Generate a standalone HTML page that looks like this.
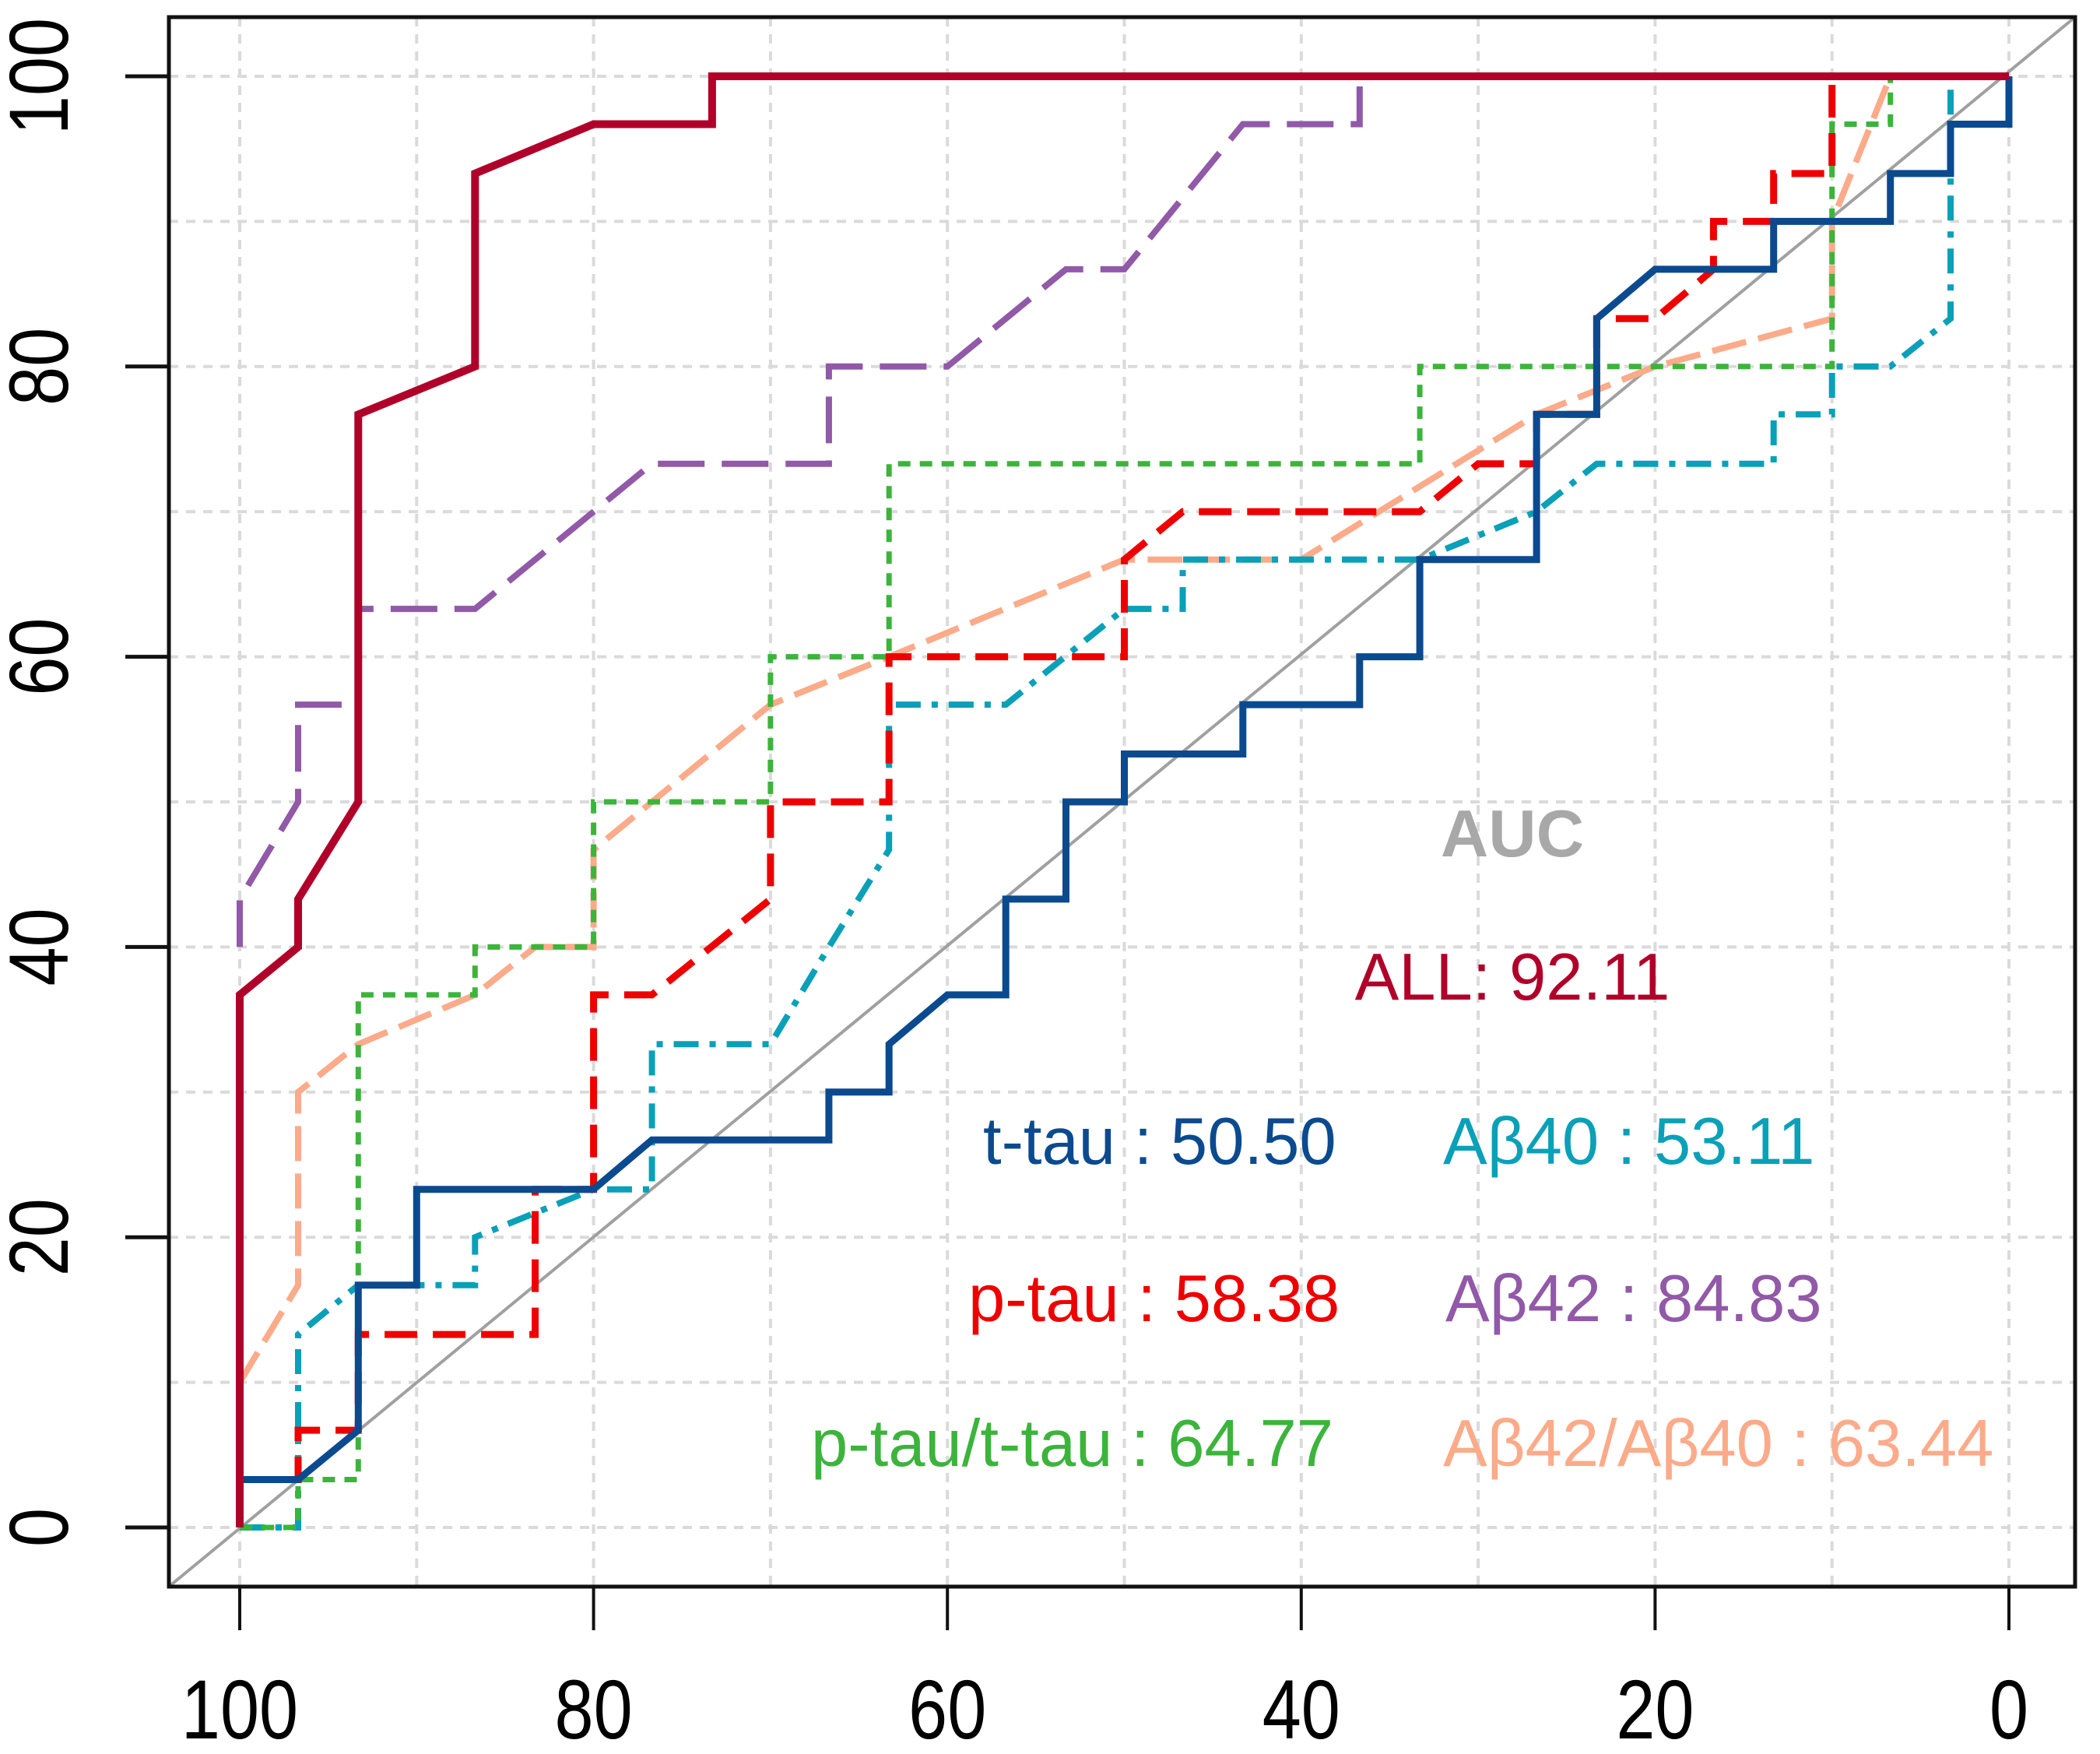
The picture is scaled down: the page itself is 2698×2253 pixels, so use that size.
<!DOCTYPE html>
<html><head><meta charset="utf-8"><style>
html,body{margin:0;padding:0;background:#fff}
svg{display:block}
text{font-family:"Liberation Sans",sans-serif}
</style></head><body>
<svg id="chart" width="2698" height="2253" viewBox="0 0 2698 2253" xmlns="http://www.w3.org/2000/svg">
<g id="grid"></g>
<line x1="217" y1="2038" x2="2666" y2="22" stroke="#a0a0a0" stroke-width="4"/>
<g id="series"></g>
<rect x="217" y="22" width="2449" height="2016" fill="none" stroke="#111" stroke-width="5"/>
<g id="axes"></g>
<g font-size="85">
<text x="1943" y="1100" text-anchor="middle" fill="#a8a8a8" font-weight="bold">AUC</text>
<text x="1943" y="1284" text-anchor="middle" fill="#b0002a">ALL: 92.11</text>
<text x="1263" y="1495" fill="#0b4a8f">t-tau : 50.50</text>
<text x="1854" y="1495" fill="#0aa0b8">Aβ40 : 53.11</text>
<text x="1244" y="1697" fill="#ee0000">p-tau : 58.38</text>
<text x="1857" y="1697" fill="#9159a8">Aβ42 : 84.83</text>
<text x="1042" y="1883" fill="#3cb43c">p-tau/t-tau : 64.77</text>
<text x="1854" y="1883" fill="#fbab8a">Aβ42/Aβ40 : 63.44</text>
</g>
</svg>
<script>
const xTicks=[100,80,60,40,20,0];
const yTicks=[0,20,40,60,80,100];
const gridVals=[0,10,20,30,40,50,60,70,80,90,100];
const allX=[100,100,96.7,96.7,93.3,93.3,86.7,86.7,80,73.3,73.3,0];
const allY=[0,36.7,40,43.3,50,76.7,80,93.3,96.7,96.7,100,100];
const ab42X=[100,100,96.7,96.7,93.3,93.3,86.7,76.7,66.7,66.7,60,53.3,50,43.3,36.7,36.7,0];
const ab42Y=[40,43.3,50,56.7,56.7,63.3,63.3,73.3,73.3,80,80,86.7,86.7,96.7,96.7,100,100];
const ttauX=[100,100,96.7,93.3,93.3,90,90,80,76.7,66.7,66.7,63.3,63.3,60,56.7,56.7,53.3,53.3,50,50,43.3,43.3,36.7,36.7,33.3,33.3,26.7,26.7,23.3,23.3,20,13.3,13.3,6.7,6.7,3.3,3.3,0,0];
const ttauY=[0,3.3,3.3,6.7,16.7,16.7,23.3,23.3,26.7,26.7,30,30,33.3,36.7,36.7,43.3,43.3,50,50,53.3,53.3,56.7,56.7,60,60,66.7,66.7,76.7,76.7,83.3,86.7,86.7,90,90,93.3,93.3,96.7,96.7,100];
const ptauX=[100,100,96.7,96.7,93.3,93.3,83.3,83.3,80,80,76.7,70,70,63.3,63.3,50,50,46.7,33.3,30,26.7,26.7,23.3,23.3,20,16.7,16.7,13.3,13.3,10,10,0];
const ptauY=[0,3.3,3.3,6.7,6.7,13.3,13.3,23.3,23.3,36.7,36.7,43.3,50,50,60,60,66.7,70,70,73.3,73.3,76.7,76.7,83.3,83.3,86.7,90,90,93.3,93.3,100,100];
const ratioTX=[100,96.7,96.7,93.3,93.3,86.7,86.7,80,80,70,70,63.3,63.3,33.3,33.3,10,10,6.7,6.7,0];
const ratioTY=[0,0,3.3,3.3,36.7,36.7,40,40,50,50,60,60,73.3,73.3,80,80,96.7,96.7,100,100];
const ab40X=[100,96.7,96.7,93.3,86.7,86.7,80,76.7,76.7,70,66.7,63.3,63.3,56.7,50,46.7,46.7,33.3,26.7,23.3,13.3,13.3,10,10,6.7,3.3,3.3,0];
const ab40Y=[0,0,13.3,16.7,16.7,20,23.3,23.3,33.3,33.3,40,46.7,56.7,56.7,63.3,63.3,66.7,66.7,70,73.3,73.3,76.7,76.7,80,80,83.3,100,100];
const ratioAX=[100,96.7,96.7,93.3,86.7,83.3,80,80,70,63.3,50,40,26.7,20,10,10,6.7,0];
const ratioAY=[10,16.7,30,33.3,36.7,40,40,46.7,56.7,60,66.7,66.7,76.7,80,83.3,90,100,100];

function X(v){return 308+(100-v)*22.73;}
function Y(v){return 1962-v*18.64;}
const NS='http://www.w3.org/2000/svg';
const grid=document.getElementById('grid');
gridVals.forEach(v=>{
  const a=document.createElementNS(NS,'line');
  
  
  a.setAttribute('x1',X(v));a.setAttribute('x2',X(v));a.setAttribute('y1',22);a.setAttribute('y2',2038);
  a.setAttribute('stroke','#dadada');a.setAttribute('stroke-width','4');a.setAttribute('stroke-dasharray','12 10');
  grid.appendChild(a);
  const b=document.createElementNS(NS,'line');
  
  
  b.setAttribute('y1',Y(v));b.setAttribute('y2',Y(v));b.setAttribute('x1',217);b.setAttribute('x2',2666);
  b.setAttribute('stroke','#dadada');b.setAttribute('stroke-width','4');b.setAttribute('stroke-dasharray','12 10');
  grid.appendChild(b);
});
const axes=document.getElementById('axes');
xTicks.forEach(v=>{
  const t=document.createElementNS(NS,'line');
  
  
  t.setAttribute('x1',X(v));t.setAttribute('x2',X(v));t.setAttribute('y1',2038);t.setAttribute('y2',2094);
  t.setAttribute('stroke','#111');t.setAttribute('stroke-width','4');
  axes.appendChild(t);
  const l=document.createElementNS(NS,'text');
  
  
  l.setAttribute('transform','translate('+X(v)+',2233) scale(1,1.2)');l.setAttribute('text-anchor','middle');l.setAttribute('font-size','90');
  l.textContent=v;axes.appendChild(l);
});
yTicks.forEach(v=>{
  const t=document.createElementNS(NS,'line');
  
  
  t.setAttribute('x1',161);t.setAttribute('x2',217);t.setAttribute('y1',Y(v));t.setAttribute('y2',Y(v));
  t.setAttribute('stroke','#111');t.setAttribute('stroke-width','5');
  axes.appendChild(t);
  const l=document.createElementNS(NS,'text');
  
  
  l.setAttribute('transform','translate(87,'+Y(v)+') rotate(-90) scale(1,1.2)');l.setAttribute('text-anchor','middle');l.setAttribute('font-size','90');
  l.textContent=v;axes.appendChild(l);
});
const seriesG=document.getElementById('series');
function addSeries(name,xs,ys,color,dash,w){
  const p=document.createElementNS(NS,'polyline');
  
  
  p.setAttribute('points',xs.map((x,i)=>X(x)+','+Y(ys[i])).join(' '));
  p.setAttribute('fill','none');p.setAttribute('stroke',color);p.setAttribute('stroke-width',w);
  if(dash)p.setAttribute('stroke-dasharray',dash);
  seriesG.appendChild(p);
}
addSeries('line-abeta42-abeta40',ratioAX,ratioAY,'#fbab8a','45 16',8);
addSeries('line-abeta40',ab40X,ab40Y,'#0aa0b8','32 14 8 14',8);
addSeries('line-p-tau-t-tau',ratioTX,ratioTY,'#3cb43c','16 12',7);
addSeries('line-p-tau',ptauX,ptauY,'#ee0000','42 20',9);
addSeries('line-t-tau',ttauX,ttauY,'#0b4a8f','',9);
addSeries('line-abeta42',ab42X,ab42Y,'#9159a8','60 22',8);
addSeries('line-all',allX,allY,'#b0002a','',10);
</script>
</body></html>
